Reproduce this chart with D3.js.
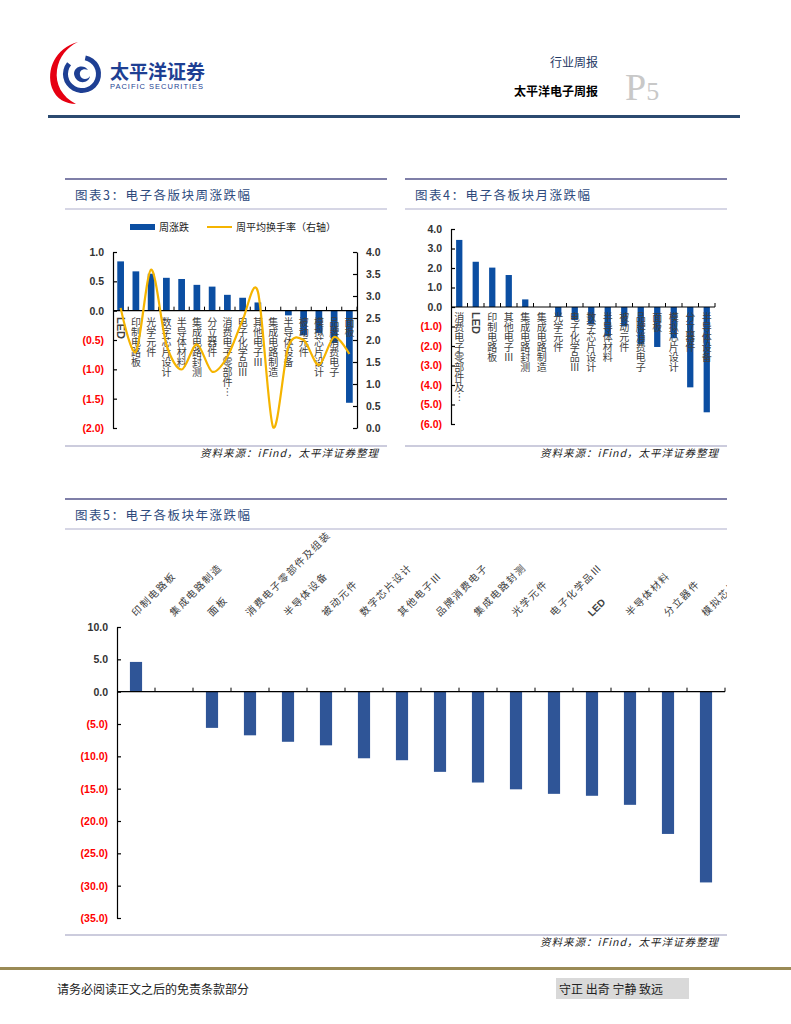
<!DOCTYPE html>
<html>
<head>
<meta charset="utf-8">
<script src="https://cdn.jsdelivr.net/npm/d3@7"></script>
<style>
  body { margin: 0; background: #fff; }
  svg text { font-family: "Noto Sans CJK SC", sans-serif; }
  .num { font-family: "Liberation Sans", Arial, sans-serif; font-weight: bold; font-size: 10.5px; }
  .cat { font-size: 10px; fill: #404040; }
  .vert { writing-mode: vertical-rl; }
</style>
</head>
<body>
<div id="page"></div>
<script>
// 图表3：周涨跌 + 周平均换手率
const weekCats = ['LED', '印制电路板', '光学元件', '数字芯片设计', '半导体材料', '集成电路封测', '分立器件',
  '消费电子零部件…', '电子化学品Ⅲ', '其他电子Ⅲ', '集成电路制造', '半导体设备', '被动元件', '模拟芯片设计',
  '品牌消费电子', '面板'];
const weekChange = [0.84, 0.67, 0.63, 0.56, 0.54, 0.44, 0.41, 0.27, 0.22, 0.14, 0.0, -0.08, -0.42, -0.38, -0.55, -1.57];
const weekTurnover = [2.73, 1.73, 3.6, 1.9, 1.33, 1.9, 1.28, 1.62, 2.45, 3.1, 0.02, 1.85, 2.0, 1.43, 2.07, 1.68];
const weekLeftTicks = [1.0, 0.5, 0.0, -0.5, -1.0, -1.5, -2.0];
const weekRightTicks = [0.0, 0.5, 1.0, 1.5, 2.0, 2.5, 3.0, 3.5, 4.0];

// 图表4：月涨跌
const monthCats = ['消费电子零部件及…', 'LED', '印制电路板', '其他电子Ⅲ', '集成电路封测', '集成电路制造', '光学元件',
  '电子化学品Ⅲ', '数字芯片设计', '半导体材料', '被动元件', '品牌消费电子', '面板', '模拟芯片设计', '分立器件', '半导体设备'];
const monthChange = [3.44, 2.32, 2.02, 1.64, 0.39, 0.0, -0.5, -0.67, -0.9, -1.5, -1.0, -1.9, -2.05, -1.6, -4.12, -5.4];
const monthTicks = [4.0, 3.0, 2.0, 1.0, 0.0, -1.0, -2.0, -3.0, -4.0, -5.0, -6.0];

// 图表5：年涨跌
const yearCats = ['印制电路板', '集成电路制造', '面板', '消费电子零部件及组装', '半导体设备', '被动元件', '数字芯片设计',
  '其他电子Ⅲ', '品牌消费电子', '集成电路封测', '光学元件', '电子化学品Ⅲ', 'LED', '半导体材料', '分立器件', '模拟芯片设计'];
const yearChange = [4.6, 0.0, -5.6, -6.75, -7.75, -8.3, -10.3, -10.6, -12.4, -14.05, -15.1, -15.8, -16.1, -17.5, -22.0, -29.5];
const yearTicks = [10, 5, 0, -5, -10, -15, -20, -25, -30, -35];

const BAR = '#0b4ea2';
const BAR5 = '#2f5597';
const LINE = '#f5b400';
const RED = '#ff0000';
const DARK = '#333333';

const fmt = (v) => (v < 0 ? `(${d3.format('.1f')(-v)})` : d3.format('.1f')(v));

const svg = d3.select('#page')
  .append('svg')
  .attr('width', 791)
  .attr('height', 1024);

const drawHeader = () => {
  const logo = svg.append('g');
  // 红色月牙
  logo.append('path')
    .attr('d', 'M78,42 C55,48 46,70 52,88 C56,99 66,104 76,104 C62,97 55,84 57,70 C59,57 67,47 78,42 Z')
    .attr('fill', '#e60012');
  // 蓝色圆环
  logo.append('path')
    .attr('d', d3.arc().innerRadius(14).outerRadius(19).startAngle(0.2).endAngle(2 * Math.PI - 0.9)())
    .attr('transform', 'translate(82,74)')
    .attr('fill', '#1e3f93');
  logo.append('path')
    .attr('d', 'M74,74 C74,66 84,64 88,70 C84,68 79,70 80,75 C81,80 88,80 90,76 C89,84 76,85 74,74 Z')
    .attr('fill', '#1e3f93');

  svg.append('text')
    .attr('x', 110).attr('y', 79)
    .attr('font-size', 19).attr('font-weight', 'bold')
    .attr('fill', '#1e3f93')
    .text('太平洋证券');
  svg.append('text')
    .attr('x', 110).attr('y', 89)
    .attr('font-size', 7.5)
    .attr('letter-spacing', 1)
    .style('font-family', '"Liberation Sans", Arial, sans-serif')
    .attr('fill', '#1e3f93')
    .text('PACIFIC SECURITIES');

  svg.append('text')
    .attr('x', 598).attr('y', 67)
    .attr('text-anchor', 'end')
    .attr('font-size', 12)
    .attr('fill', '#1f3864')
    .text('行业周报');
  svg.append('text')
    .attr('x', 598).attr('y', 96)
    .attr('text-anchor', 'end')
    .attr('font-size', 12).attr('font-weight', 'bold')
    .attr('fill', '#000')
    .text('太平洋电子周报');
  const p5 = svg.append('text')
    .attr('x', 625).attr('y', 100)
    .style('font-family', '"Liberation Serif", serif')
    .attr('fill', '#c8c8c8');
  p5.append('tspan').attr('font-size', 38).text('P');
  p5.append('tspan').attr('font-size', 26).text('5');

  svg.append('line')
    .attr('x1', 48).attr('x2', 740)
    .attr('y1', 116.5).attr('y2', 116.5)
    .attr('stroke', '#2b4a70').attr('stroke-width', 3);
};

const drawFooter = () => {
  svg.append('line')
    .attr('x1', 0).attr('x2', 791)
    .attr('y1', 968.5).attr('y2', 968.5)
    .attr('stroke', '#9a8a55').attr('stroke-width', 3);
  svg.append('text')
    .attr('x', 57).attr('y', 994)
    .attr('font-size', 12).attr('fill', '#222')
    .text('请务必阅读正文之后的免责条款部分');
  svg.append('rect')
    .attr('x', 556).attr('y', 978)
    .attr('width', 133).attr('height', 21)
    .attr('fill', '#d9d9d9');
  svg.append('text')
    .attr('x', 559).attr('y', 994)
    .attr('font-size', 12).attr('fill', '#222')
    .text('守正 出奇 宁静 致远');
};

const drawFrame = (x0, x1, yTop, yUnder, ySource, title) => {
  svg.append('line')
    .attr('x1', x0).attr('x2', x1)
    .attr('y1', yTop).attr('y2', yTop)
    .attr('stroke', '#7f7fa8').attr('stroke-width', 2);
  svg.append('text')
    .attr('x', x0 + 10).attr('y', yTop + 21)
    .attr('font-size', 12.5).attr('fill', '#2e4a7d')
    .attr('letter-spacing', 1.5)
    .text(title);
  svg.append('line')
    .attr('x1', x0).attr('x2', x1)
    .attr('y1', yUnder).attr('y2', yUnder)
    .attr('stroke', '#c9c9dc').attr('stroke-width', 1.5);
  svg.append('line')
    .attr('x1', x0).attr('x2', x1)
    .attr('y1', ySource).attr('y2', ySource)
    .attr('stroke', '#9999bb').attr('stroke-width', 1);
  svg.append('text')
    .attr('x', x1 - 8).attr('y', ySource + 11)
    .attr('text-anchor', 'end')
    .attr('font-size', 10.5).attr('font-style', 'italic')
    .attr('letter-spacing', 1)
    .attr('fill', '#222')
    .text('资料来源：iFind，太平洋证券整理');
};

const yAxisLeft = (yScale, ticks, x) => {
  const g = svg.append('g')
    .attr('transform', `translate(${x},0)`)
    .call(d3.axisLeft(yScale).tickValues(ticks).tickFormat(fmt).tickSizeInner(-4).tickSizeOuter(0).tickPadding(9));
  g.selectAll('path, line').attr('stroke', '#000').attr('stroke-width', 1.2);
  g.selectAll('text')
    .attr('class', 'num')
    .attr('fill', (d) => (d < 0 ? RED : DARK));
  return g;
};

const zeroLine = (xScale, yScale) => {
  const n = xScale.domain().length;
  const [r0, r1] = xScale.range();
  const bx = d3.scaleLinear().domain([0, n]).range([r0, r1]);
  const g = svg.append('g').attr('transform', `translate(0,${yScale(0)})`);
  g.append('line')
    .attr('x1', r0).attr('x2', r1)
    .attr('stroke', '#000').attr('stroke-width', 1.2);
  g.selectAll('.tk')
    .data(d3.range(1, n + 1))
    .enter()
    .append('line')
    .attr('x1', (i) => bx(i)).attr('x2', (i) => bx(i))
    .attr('y1', 0).attr('y2', -4)
    .attr('stroke', '#000');
};

const drawBars = (xScale, yScale, cats, values, color) => {
  svg.append('g')
    .selectAll('rect')
    .data(values)
    .enter()
    .append('rect')
    .attr('x', (d, i) => xScale(cats[i]))
    .attr('width', xScale.bandwidth())
    .attr('y', (d) => yScale(Math.max(0, d)))
    .attr('height', (d) => Math.abs(yScale(d) - yScale(0)))
    .attr('fill', color);
};

const verticalLabels = (xScale, cats, y) => {
  svg.append('g')
    .selectAll('text')
    .data(cats)
    .enter()
    .append('text')
    .attr('class', 'cat vert')
    .attr('x', (d) => xScale(d) + xScale.bandwidth() / 2)
    .attr('y', y)
    .attr('font-weight', (d) => (d === 'LED' ? 'bold' : 'normal'))
    .style('font-family', (d) => (d === 'LED' ? '"Liberation Sans", Arial, sans-serif' : null))
    .style('font-size', (d) => (d === 'LED' ? '11px' : null))
    .text((d) => d);
};

const drawWeek = () => {
  drawFrame(65, 387, 179, 209, 446, '图表3：电子各版块周涨跌幅');

  const x = d3.scaleBand().domain(weekCats).range([113, 357]).paddingInner(0.56).paddingOuter(0.28);
  const yL = d3.scaleLinear().domain([-2, 1]).range([428, 252]);
  const yR = d3.scaleLinear().domain([0, 4]).range([428, 252]);

  // 图例
  const lg = svg.append('g');
  lg.append('rect').attr('x', 130).attr('y', 224).attr('width', 25).attr('height', 6).attr('fill', BAR);
  lg.append('text').attr('x', 159).attr('y', 231).attr('font-size', 10).attr('fill', '#222').text('周涨跌');
  lg.append('line').attr('x1', 207).attr('x2', 232).attr('y1', 227).attr('y2', 227)
    .attr('stroke', LINE).attr('stroke-width', 2);
  lg.append('text').attr('x', 236).attr('y', 231).attr('font-size', 10).attr('fill', '#222').text('周平均换手率（右轴）');

  drawBars(x, yL, weekCats, weekChange, BAR);
  yAxisLeft(yL, weekLeftTicks, 113);

  const gR = svg.append('g')
    .attr('transform', 'translate(357,0)')
    .call(d3.axisRight(yR).tickValues(weekRightTicks).tickFormat(d3.format('.1f')).tickSizeInner(-4).tickSizeOuter(0).tickPadding(9));
  gR.selectAll('path, line').attr('stroke', '#000').attr('stroke-width', 1.2);
  gR.selectAll('text').attr('class', 'num').attr('fill', DARK);

  zeroLine(x, yL);
  verticalLabels(x, weekCats, 317);

  const line = d3.line()
    .curve(d3.curveCardinal.tension(0.1))
    .x((d, i) => x(weekCats[i]) + x.bandwidth() / 2)
    .y((d) => yR(d));
  svg.append('path')
    .datum(weekTurnover)
    .attr('fill', 'none')
    .attr('stroke', LINE)
    .attr('stroke-width', 2.2)
    .attr('d', line);
};

const drawMonth = () => {
  drawFrame(405, 727, 179, 209, 446, '图表4：电子各板块月涨跌幅');

  const x = d3.scaleBand().domain(monthCats).range([451, 715]).paddingInner(0.62).paddingOuter(0.31);
  const y = d3.scaleLinear().domain([-6, 4]).range([424, 229]);

  drawBars(x, y, monthCats, monthChange, BAR);
  yAxisLeft(y, monthTicks, 451);
  zeroLine(x, y);
  verticalLabels(x, monthCats, 312);
};

const drawYear = () => {
  drawFrame(65, 727, 499, 529, 935, '图表5：电子各板块年涨跌幅');

  const x = d3.scaleBand().domain(yearCats).range([117, 725]).paddingInner(0.68).paddingOuter(0.34);
  const y = d3.scaleLinear().domain([-35, 10]).range([918, 627]);

  drawBars(x, y, yearCats, yearChange, BAR5);
  yAxisLeft(y, yearTicks, 117);
  zeroLine(x, y);

  svg.append('clipPath').attr('id', 'clip5')
    .append('rect').attr('x', 65).attr('y', 530).attr('width', 662).attr('height', 100);

  svg.append('g')
    .attr('clip-path', 'url(#clip5)')
    .selectAll('text')
    .data(yearCats)
    .enter()
    .append('text')
    .attr('class', 'cat')
    .attr('transform', (d) => `translate(${x(d) + x.bandwidth() / 2},${617}) rotate(-45)`)
    .attr('font-size', (d) => (d === 'LED' ? 12 : 10.5))
    .attr('font-weight', (d) => (d === 'LED' ? 'bold' : 'normal'))
    .attr('letter-spacing', (d) => (d === 'LED' ? 0 : 1.5))
    .style('font-family', (d) => (d === 'LED' ? '"Liberation Sans", Arial, sans-serif' : null))
    .text((d) => d);
};

drawHeader();
drawWeek();
drawMonth();
drawYear();
drawFooter();
</script>
</body>
</html>
